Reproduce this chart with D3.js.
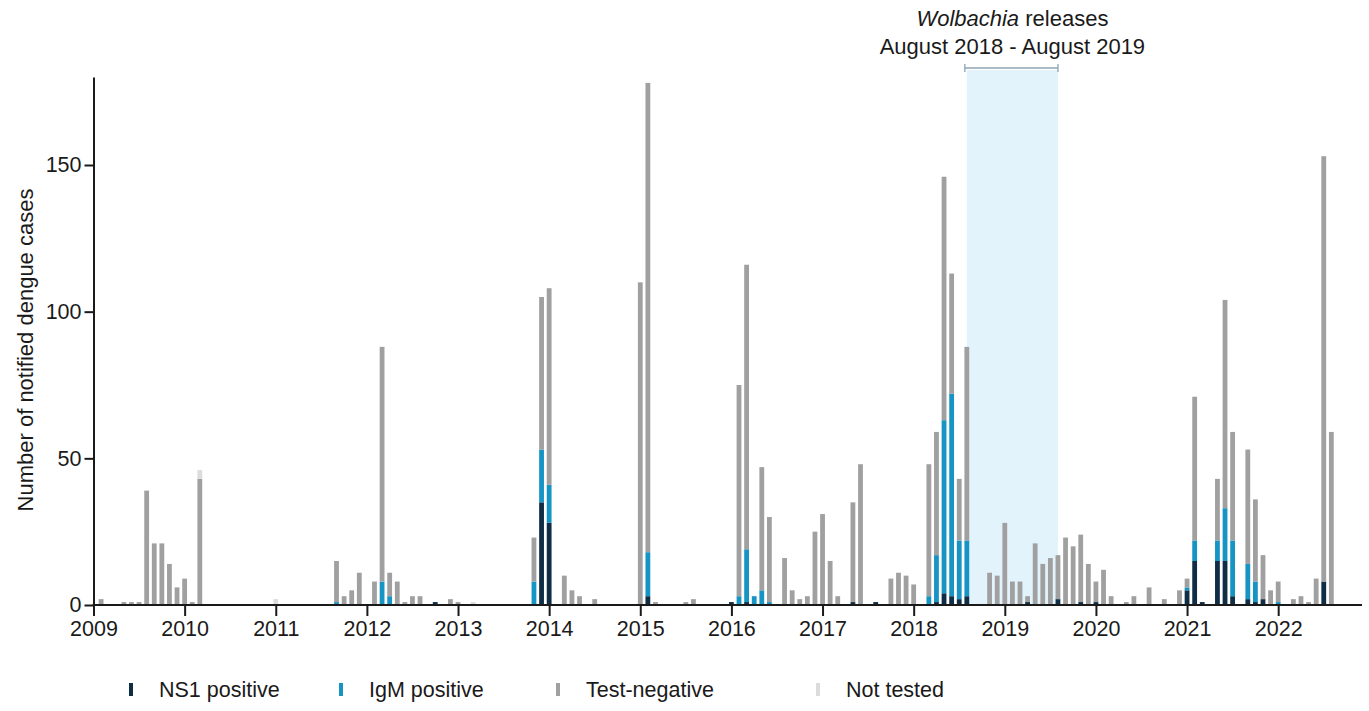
<!DOCTYPE html>
<html>
<head>
<meta charset="utf-8">
<script src="https://cdn.jsdelivr.net/npm/d3@7"></script>
<style>
  html, body { margin: 0; padding: 0; background: #ffffff; }
  svg { display: block; font-family: "Liberation Sans", Arial, Helvetica, sans-serif; }
</style>
</head>
<body>
<svg id="chart" width="1369" height="711"></svg>
<script>
// Monthly notified dengue cases, January 2009 to December 2022 (12 values per year)
const years = [2009, 2010, 2011, 2012, 2013, 2014, 2015, 2016, 2017, 2018, 2019, 2020, 2021, 2022];

const ns1Positive = [
  0,0,0,0,0,0,0,0,0,0,0,0,        // 2009
  0,0,0,0,0,0,0,0,0,0,0,0,        // 2010
  0,0,0,0,0,0,0,0,0,0,0,0,        // 2011
  0,0,0,0,0,0,0,0,0,1,0,0,        // 2012
  0,0,0,0,0,0,0,0,0,0,0,35,       // 2013
  28,0,0,0,0,0,0,0,0,0,0,0,       // 2014
  0,3,0,0,0,0,0,0,0,0,0,0,        // 2015
  1,0,1,0,0,0,0,0,0,0,0,0,        // 2016
  0,0,0,0,1,0,0,1,0,0,0,0,        // 2017
  0,0,0,1,4,3,2,3,0,0,0,0,        // 2018
  0,0,0,1,0,0,0,2,0,0,1,0,        // 2019
  1,0,0,0,0,0,0,0,0,0,0,0,        // 2020
  5,15,1,0,15,15,3,0,2,1,2,0,     // 2021
  0,0,0,0,0,0,8,0,0,0,0,0         // 2022
];

const igmPositive = [
  0,0,0,0,0,0,0,0,0,0,0,0,        // 2009
  0,0,0,0,0,0,0,0,0,0,0,0,        // 2010
  0,0,0,0,0,0,0,0,1,0,0,0,        // 2011
  0,0,8,3,0,0,0,0,0,0,0,0,        // 2012
  0,0,0,0,0,0,0,0,0,0,8,18,       // 2013
  13,0,0,0,0,0,0,0,0,0,0,0,       // 2014
  0,15,0,0,0,0,0,0,0,0,0,0,       // 2015
  0,3,18,3,5,1,0,0,0,0,0,0,       // 2016
  0,0,0,0,0,0,0,0,0,0,0,0,        // 2017
  0,0,3,16,59,69,20,19,0,0,0,0,   // 2018
  0,0,0,0,0,0,0,0,0,0,0,0,        // 2019
  0,0,0,0,0,0,0,0,0,0,0,0,        // 2020
  1,7,0,0,7,18,19,0,12,7,0,0,     // 2021
  1,0,0,0,0,0,0,0,0,0,0,0         // 2022
];

const testNegative = [
  0,2,0,0,1,1,1,39,21,21,14,6,    // 2009
  9,1,43,0,0,0,0,0,0,0,0,0,       // 2010
  0,0,0,0,0,0,0,0,14,3,5,11,      // 2011
  0,8,80,8,8,1,3,3,0,0,0,2,       // 2012
  1,0,0,0,0,0,0,0,0,0,15,52,      // 2013
  67,0,10,5,3,0,2,0,0,0,0,0,      // 2014
  110,160,1,0,0,0,1,2,0,0,0,0,    // 2015
  0,72,97,0,42,29,0,16,5,2,3,25,  // 2016
  31,15,3,0,34,48,0,0,0,9,11,10,  // 2017
  7,0,45,42,83,41,21,66,0,0,11,10,// 2018
  28,8,8,2,21,14,16,15,23,20,23,14, // 2019
  7,12,3,0,1,3,0,6,0,2,0,5,       // 2020
  3,49,0,0,21,71,37,0,39,28,15,5, // 2021
  7,0,2,3,1,9,145,59,0,0,0,0      // 2022
];

const notTested = [
  0,0,0,0,0,0,0,0,0,0,0,0,        // 2009
  0,0,3,0,0,0,0,0,0,0,0,0,        // 2010
  2,0,0,0,0,0,0,0,0,0,0,0,        // 2011
  0,0,0,0,0,0,0,0,0,0,0,0,        // 2012
  0,0,1,0,0,0,0,0,0,0,0,0,        // 2013
  0,0,0,0,0,0,0,0,0,0,0,0,        // 2014
  0,0,0,0,0,0,0,0,0,0,0,0,        // 2015
  0,0,0,0,0,0,0,0,0,0,0,0,        // 2016
  0,0,0,0,0,0,0,0,0,0,0,0,        // 2017
  0,0,0,0,0,0,0,0,0,0,0,0,        // 2018
  0,0,0,0,0,0,0,0,0,0,0,0,        // 2019
  0,0,0,0,0,0,0,0,0,0,0,0,        // 2020
  0,0,0,0,0,0,0,0,0,0,0,0,        // 2021
  0,0,0,0,0,0,0,0,0,0,0,0         // 2022
];

const seriesKeys = ["ns1", "igm", "neg", "nt"];
const seriesLabels = ["NS1 positive", "IgM positive", "Test-negative", "Not tested"];
const seriesColors = ["#0f2d44", "#1694c4", "#a0a0a0", "#dcdcdc"];

// Wolbachia release period, as month indices from January 2009 (Aug 2018 - Aug 2019)
const releaseStart = 115;
const releaseEnd = 127;
const yTicks = [0, 50, 100, 150];

const rows = ns1Positive.map((_, i) => ({
  month: i,
  ns1: ns1Positive[i],
  igm: igmPositive[i],
  neg: testNegative[i],
  nt: notTested[i]
}));

const svg = d3.select("#chart");
const W = 1369, H = 711;
const x0 = 93.5, yBase = 605, yTop = 77;

svg.append("rect").attr("width", W).attr("height", H).attr("fill", "#ffffff");

const x = d3.scaleLinear().domain([0, 168]).range([x0, x0 + 14 * 91.13]);
const y = d3.scaleLinear().domain([0, 180]).range([yBase, yTop]);
const color = d3.scaleOrdinal().domain(seriesKeys).range(seriesColors);

// Release period shading and bracket
const band = svg.append("g");
band.append("rect")
  .attr("x", x(releaseStart))
  .attr("y", 70)
  .attr("width", x(releaseEnd) - x(releaseStart))
  .attr("height", yBase - 70)
  .attr("fill", "#e3f3fb");
band.append("line")
  .attr("x1", x(releaseStart) - 2).attr("x2", x(releaseEnd))
  .attr("y1", 68).attr("y2", 68)
  .attr("stroke", "#8ca6b4").attr("stroke-width", 1.3);
[x(releaseStart) - 2, x(releaseEnd)].forEach(px => {
  band.append("line")
    .attr("x1", px).attr("x2", px)
    .attr("y1", 64).attr("y2", 72)
    .attr("stroke", "#8ca6b4").attr("stroke-width", 1.3);
});

const note = svg.append("text")
  .attr("x", (x(releaseStart) + x(releaseEnd)) / 2)
  .attr("y", 26)
  .attr("text-anchor", "middle")
  .attr("font-size", 22)
  .attr("fill", "#1a1a1a");
note.append("tspan").attr("font-style", "italic").text("Wolbachia");
note.append("tspan").text(" releases");
svg.append("text")
  .attr("x", (x(releaseStart) + x(releaseEnd)) / 2)
  .attr("y", 54)
  .attr("text-anchor", "middle")
  .attr("font-size", 22)
  .attr("fill", "#1a1a1a")
  .text("August 2018 - August 2019");

// Stacked monthly bars
const stacked = d3.stack().keys(seriesKeys)(rows);
const barW = 4.8;
svg.append("g")
  .selectAll("g")
  .data(stacked)
  .join("g")
  .attr("fill", d => color(d.key))
  .selectAll("rect")
  .data(d => d.filter(s => s[1] > s[0]))
  .join("rect")
  .attr("x", d => x(d.data.month) - barW / 2)
  .attr("y", d => y(d[1]))
  .attr("width", barW)
  .attr("height", d => y(d[0]) - y(d[1]));

// Axes
const axisColor = "#1a1a1a";
const xAxis = svg.append("g")
  .attr("transform", `translate(0,${yBase})`)
  .call(d3.axisBottom(x)
    .tickValues(d3.range(0, 168, 12))
    .tickFormat((d, i) => years[i])
    .tickSize(11)
    .tickPadding(5));
xAxis.select(".domain").remove();
xAxis.selectAll(".tick line").attr("stroke", axisColor).attr("stroke-width", 2);
xAxis.selectAll(".tick text").attr("font-size", 21.5).attr("fill", axisColor)
  .attr("font-family", "Liberation Sans, Arial, sans-serif");
svg.append("line")
  .attr("x1", x0 - 1).attr("x2", 1362)
  .attr("y1", yBase).attr("y2", yBase)
  .attr("stroke", axisColor).attr("stroke-width", 2);

const yAxis = svg.append("g")
  .attr("transform", `translate(${x0},0)`)
  .call(d3.axisLeft(y)
    .tickValues(yTicks)
    .tickSize(9)
    .tickPadding(3)
    .tickSizeOuter(0));
yAxis.select(".domain").attr("stroke", axisColor).attr("stroke-width", 2);
yAxis.selectAll(".tick line").attr("stroke", axisColor).attr("stroke-width", 2);
yAxis.selectAll(".tick text").attr("font-size", 21.5).attr("fill", axisColor)
  .attr("font-family", "Liberation Sans, Arial, sans-serif");

svg.append("text")
  .attr("transform", `translate(33,350) rotate(-90)`)
  .attr("text-anchor", "middle")
  .attr("font-size", 22)
  .attr("fill", axisColor)
  .text("Number of notified dengue cases");

// Legend
const legendX = [131, 341, 558, 818];
const legend = svg.append("g").selectAll("g")
  .data(seriesKeys)
  .join("g")
  .attr("transform", (d, i) => `translate(${legendX[i]},690)`);
legend.append("rect")
  .attr("x", -2).attr("y", -7)
  .attr("width", 4).attr("height", 13)
  .attr("fill", d => color(d));
legend.append("text")
  .attr("x", 28).attr("y", 7)
  .attr("font-size", 21.5)
  .attr("fill", axisColor)
  .text((d, i) => seriesLabels[i]);
</script>
</body>
</html>
